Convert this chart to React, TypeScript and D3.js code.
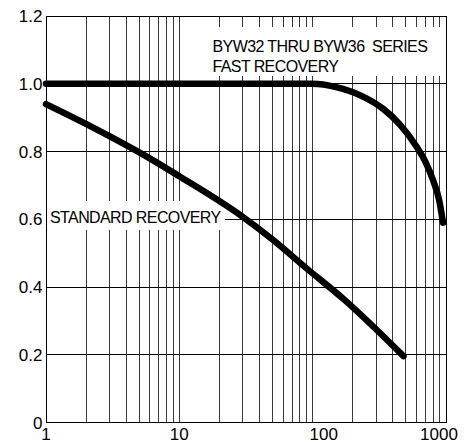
import React from "react";
import * as d3 from "d3";

// Axis ticks
const xTickValues = [1, 10, 100, 1000];
const xTickLabels = ["1", "10", "100", "1000"];
const yTickValues = [0, 0.2, 0.4, 0.6, 0.8, 1.0, 1.2];
const yTickLabels = ["0", "0.2", "0.4", "0.6", "0.8", "1.0", "1.2"];

// Fast recovery series (BYW32 thru BYW36)
const fastX = [1, 100, 150, 230, 340, 450, 600, 700, 800, 890, 950];
const fastY = [1.0, 1.0, 0.99, 0.965, 0.925, 0.88, 0.815, 0.77, 0.715, 0.655, 0.59];

// Standard recovery series
const stdX = [1, 2.2, 5.7, 10, 28, 50, 90, 170, 480];
const stdY = [0.94, 0.873, 0.785, 0.727, 0.615, 0.54, 0.455, 0.365, 0.196];

const W = 464;
const H = 444;
const FONT = "'Liberation Sans', Arial, sans-serif";

export default function App() {
  const x = d3.scaleLog().domain([1, 1000]).range([46, 446]);
  const y = d3.scaleLinear().domain([0, 1.2]).range([422.5, 16]);

  // log grid: 1..9 per decade, plus the closing 1000 line
  const gridX: number[] = [];
  for (let k = 0; k < 3; k++) {
    for (let m = 1; m <= 9; m++) gridX.push(m * Math.pow(10, k));
  }
  gridX.push(1000);

  const line = d3
    .line<[number, number]>()
    .x((d) => x(d[0]))
    .y((d) => y(d[1]))
    .curve(d3.curveMonotoneX);

  const fastPts = fastX.map((v, i) => [v, fastY[i]] as [number, number]);
  const stdPts = stdX.map((v, i) => [v, stdY[i]] as [number, number]);

  // tick label nudges for the crowded right end
  const xLabelNudge: Record<string, number> = { "100": 11, "1000": -7 };

  return (
    <svg
      width={W}
      height={H}
      style={{ position: "absolute", left: 0, top: 0, background: "#fff" }}
      fontFamily={FONT}
    >
      <rect x={0} y={0} width={W} height={H} fill="#fff" />

      {/* grid */}
      <g strokeWidth={1} shapeRendering="crispEdges">
        {gridX.map((v, i) => (
          <line
            key={"gx" + i}
            x1={x(v)}
            x2={x(v)}
            y1={y(1.2)}
            y2={y(0)}
            stroke={i === 0 || i === gridX.length - 1 ? "#000" : "#3a3a3a"}
          />
        ))}
        {yTickValues.map((v, i) => (
          <line key={"gy" + i} x1={x(1)} x2={x(1000)} y1={y(v)} y2={y(v)} stroke="#000" />
        ))}
      </g>

      {/* label backgrounds */}
      <rect x={205} y={27} width={236} height={49} fill="#fff" />
      <rect x={47} y={201} width={178} height={29} fill="#fff" />

      <g fontSize={16} letterSpacing={-0.6} fill="#000">
        <text x={212.5} y={51.5}>BYW32 THRU BYW36&#160;&#160;SERIES</text>
        <text x={212.5} y={71.5}>FAST RECOVERY</text>
        <text x={50} y={223}>STANDARD RECOVERY</text>
      </g>

      {/* curves */}
      <path
        d={line(fastPts) || ""}
        fill="none"
        stroke="#000"
        strokeWidth={6.5}
        strokeLinecap="round"
        strokeLinejoin="round"
      />
      <path
        d={line(stdPts) || ""}
        fill="none"
        stroke="#000"
        strokeWidth={6.5}
        strokeLinecap="round"
        strokeLinejoin="round"
      />

      {/* y tick labels */}
      <g fontSize={17} textAnchor="end" fill="#000">
        {yTickValues.map((v, i) => (
          <text key={"yl" + i} x={42.5} y={y(v) + 6}>
            {yTickLabels[i]}
          </text>
        ))}
      </g>

      {/* x tick labels */}
      <g fontSize={17} textAnchor="middle" fill="#000">
        {xTickValues.map((v, i) => (
          <text
            key={"xl" + i}
            x={x(v) + (xLabelNudge[xTickLabels[i]] || 0)}
            y={440}
          >
            {xTickLabels[i]}
          </text>
        ))}
      </g>
    </svg>
  );
}
